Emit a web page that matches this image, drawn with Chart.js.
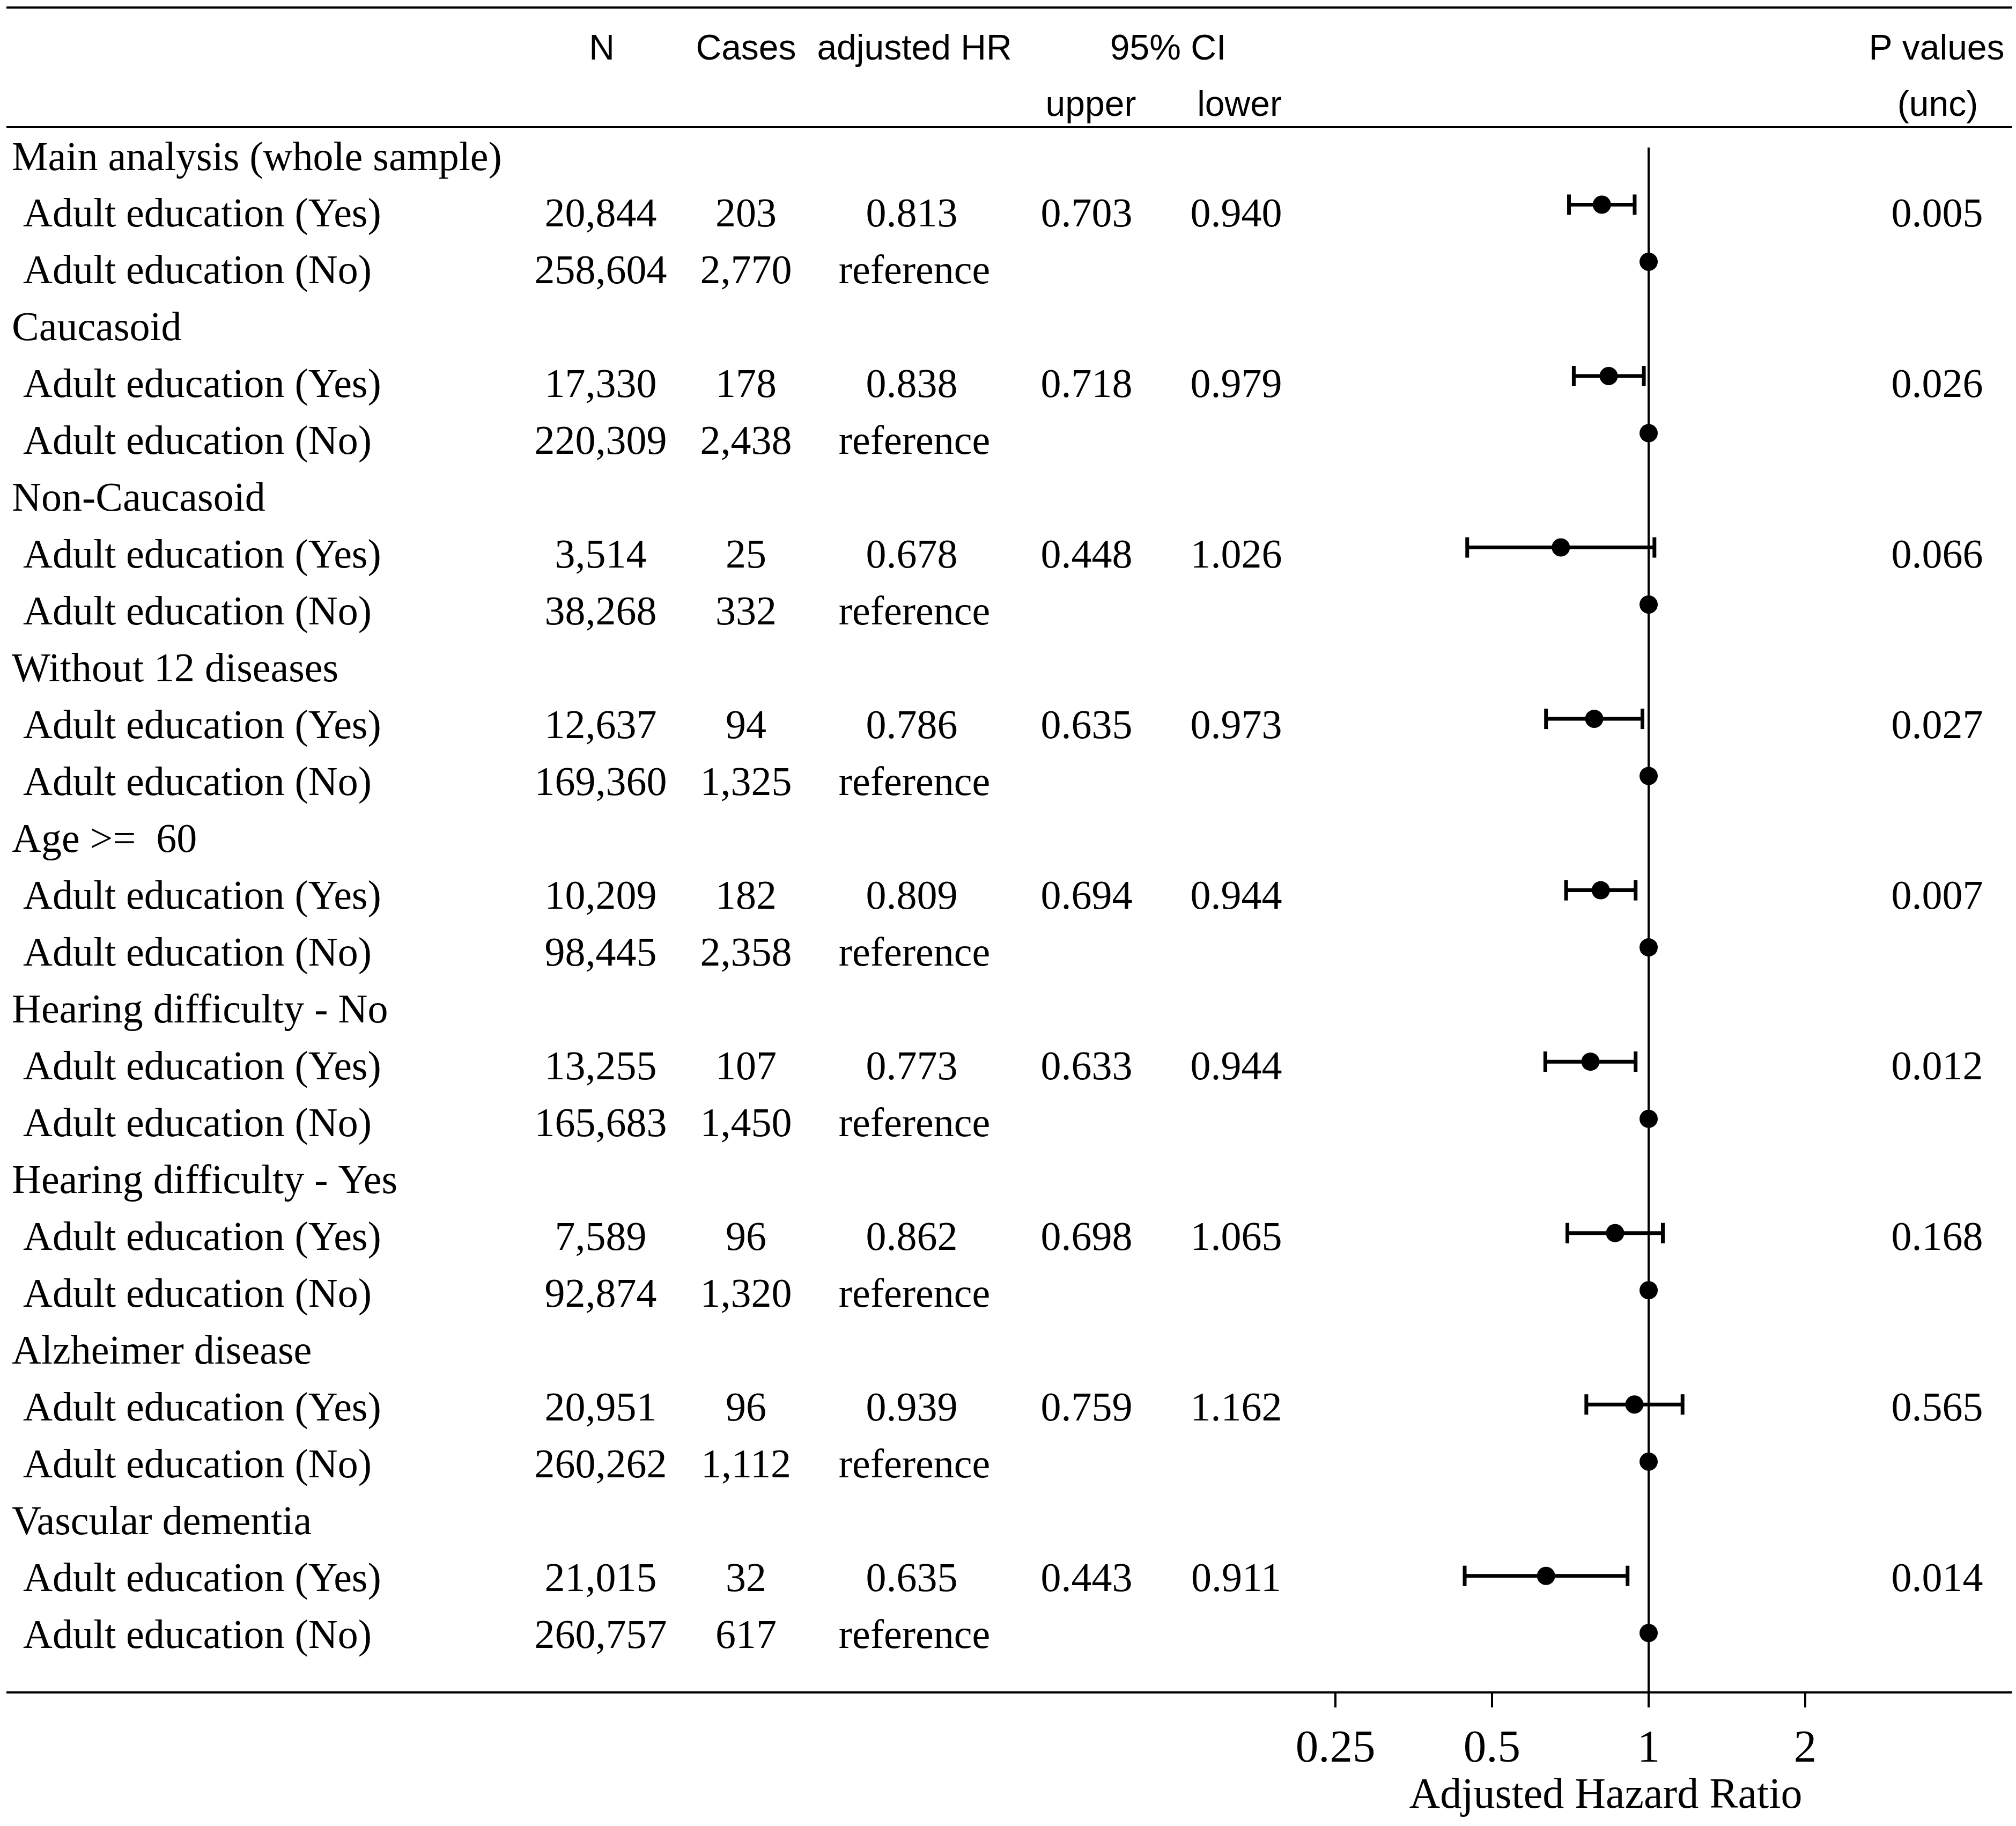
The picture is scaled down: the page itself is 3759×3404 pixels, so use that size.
<!DOCTYPE html>
<html>
<head>
<meta charset="utf-8">
<script src="https://cdn.jsdelivr.net/npm/chart.js@4.4.1/dist/chart.umd.min.js"></script>
<style>
  html, body { margin: 0; padding: 0; background: #fff; }
  canvas { display: block; }
</style>
</head>
<body>
<canvas id="forestChart" width="3759" height="3404"></canvas>
<script>
var groups = ["Main analysis (whole sample)", "Caucasoid", "Non-Caucasoid", "Without 12 diseases", "Age >=  60",
              "Hearing difficulty - No", "Hearing difficulty - Yes", "Alzheimer disease", "Vascular dementia"];
var nYes = [20844, 17330, 3514, 12637, 10209, 13255, 7589, 20951, 21015];
var nNo = [258604, 220309, 38268, 169360, 98445, 165683, 92874, 260262, 260757];
var casesYes = [203, 178, 25, 94, 182, 107, 96, 96, 32];
var casesNo = [2770, 2438, 332, 1325, 2358, 1450, 1320, 1112, 617];
var hr = [0.813, 0.838, 0.678, 0.786, 0.809, 0.773, 0.862, 0.939, 0.635];
var ciLow = [0.703, 0.718, 0.448, 0.635, 0.694, 0.633, 0.698, 0.759, 0.443];
var ciHigh = [0.940, 0.979, 1.026, 0.973, 0.944, 0.944, 1.065, 1.162, 0.911];
var pValues = [0.005, 0.026, 0.066, 0.027, 0.007, 0.012, 0.168, 0.565, 0.014];
var xTicks = [0.25, 0.5, 1, 2];

var serif = '"Liberation Serif", "Times New Roman", serif';
var sans = '"Liberation Sans", Arial, sans-serif';
var yMax = 27.04;

// markers: estimate for "Yes" rows, reference (HR = 1) for "No" rows
var points = [], whiskers = [], caps = [];
groups.forEach(function (g, i) {
    var row = i * 3;
    points.push({ x: hr[i], y: row + 1 }, { x: 1, y: row + 2 });
    whiskers.push({ x: ciLow[i], y: row + 1 }, { x: ciHigh[i], y: row + 1 }, { x: null, y: null });
    caps.push({ x: ciLow[i], y: row + 1 }, { x: ciHigh[i], y: row + 1 });
});

function fmt(n) { return n.toLocaleString('en-US'); }

var tablePlugin = {
    id: 'forestTable',
    afterDraw: function (chart) {
        var ctx = chart.ctx;
        var ys = chart.scales.y;
        ctx.save();
        ctx.strokeStyle = '#000';
        ctx.fillStyle = '#000';
        ctx.lineWidth = 4;
        [14, 237, chart.chartArea.bottom].forEach(function (ry) {
            ctx.beginPath();
            ctx.moveTo(12, ry);
            ctx.lineTo(3752, ry);
            ctx.stroke();
        });

        // header
        ctx.font = '66px ' + sans;
        ctx.textAlign = 'center';
        ctx.textBaseline = 'alphabetic';
        ctx.fillText('N', 1122, 111);
        ctx.fillText('Cases', 1391, 111);
        ctx.fillText('adjusted HR', 1705, 111);
        ctx.fillText('95% CI', 2178, 111);
        ctx.fillText('P values', 3611, 111);
        ctx.fillText('upper', 2034, 216);
        ctx.fillText('lower', 2311, 216);
        ctx.fillText('(unc)', 3613, 216);

        // rows (text sits a touch lower than the markers near the top)
        ctx.font = '76px ' + serif;
        function base(r) { return ys.getPixelForValue(r * 0.995 + 0.155) + 25; }
        function left(t, x, r) { ctx.textAlign = 'left'; ctx.fillText(t, x, base(r)); }
        function mid(t, x, r) { ctx.textAlign = 'center'; ctx.fillText(t, x, base(r)); }
        groups.forEach(function (g, i) {
            var row = i * 3;
            left(g, 22, row);
            left('Adult education (Yes)', 43, row + 1);
            mid(fmt(nYes[i]), 1120, row + 1);
            mid(String(casesYes[i]), 1391, row + 1);
            mid(hr[i].toFixed(3), 1700, row + 1);
            mid(ciLow[i].toFixed(3), 2026, row + 1);
            mid(ciHigh[i].toFixed(3), 2305, row + 1);
            mid(pValues[i].toFixed(3), 3612, row + 1);
            left('Adult education (No)', 43, row + 2);
            mid(fmt(nNo[i]), 1120, row + 2);
            mid(fmt(casesNo[i]), 1391, row + 2);
            mid('reference', 1705, row + 2);
        });
        ctx.restore();
    }
};

var ctx = document.getElementById('forestChart').getContext('2d');
var forestChart = new Chart(ctx, {
    type: 'scatter',
    data: {
        datasets: [{
            data: points,
            pointRadius: 17,
            pointBorderWidth: 0,
            pointBackgroundColor: '#000'
        }, {
            data: caps,
            pointStyle: 'line',
            rotation: 90,
            pointRadius: 19,
            pointBorderWidth: 7,
            pointBorderColor: '#000'
        }, {
            data: whiskers,
            showLine: true,
            spanGaps: false,
            pointRadius: 0,
            borderWidth: 7,
            borderColor: '#000'
        }, {
            data: [{ x: 1, y: 0 }, { x: 1, y: yMax }],
            showLine: true,
            pointRadius: 0,
            borderWidth: 4,
            borderColor: '#000'
        }]
    },
    options: {
        responsive: false,
        devicePixelRatio: 1,
        animation: false,
        layout: { padding: { left: 2490, right: 261, top: 275, bottom: 0 } },
        plugins: { legend: { display: false }, tooltip: { enabled: false } },
        scales: {
            x: {
                type: 'logarithmic',
                position: 'bottom',
                min: 0.25,
                max: 2.736,
                afterBuildTicks: function (s) { s.ticks = xTicks.map(function (v) { return { value: v }; }); },
                afterFit: function (s) { s.height = 249; },
                ticks: {
                    autoSkip: false,
                    maxRotation: 0,
                    padding: 28,
                    color: '#000',
                    font: { family: serif, size: 85 },
                    callback: function (v) { return String(v); }
                },
                grid: { drawOnChartArea: false, drawTicks: true, tickLength: 28, lineWidth: 4, color: '#000' },
                border: { display: false },
                title: {
                    display: true,
                    text: 'Adjusted Hazard Ratio',
                    color: '#000',
                    font: { family: serif, size: 80 },
                    padding: { top: 0, bottom: 7 }
                }
            },
            y: {
                type: 'linear',
                display: false,
                reverse: true,
                min: 0,
                max: yMax
            }
        }
    },
    plugins: [tablePlugin]
});
</script>
</body>
</html>
